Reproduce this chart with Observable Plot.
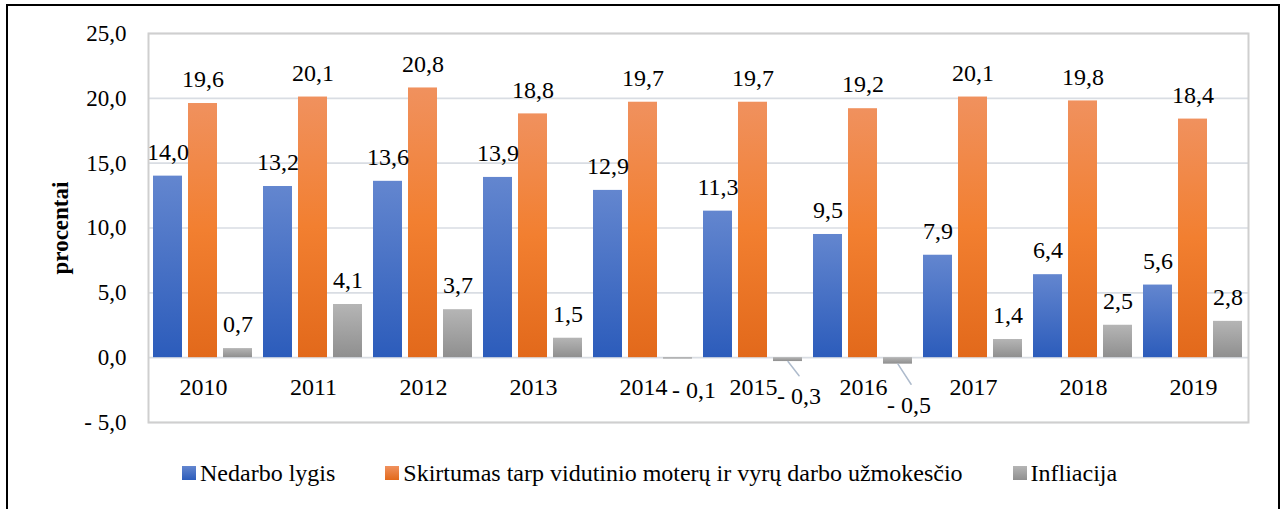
<!DOCTYPE html>
<html><head><meta charset="utf-8">
<script src="https://cdn.jsdelivr.net/npm/d3@7"></script>
<script src="https://cdn.jsdelivr.net/npm/@observablehq/plot@0.6"></script>
<style>
body{margin:0;background:#fff;font-family:"Liberation Serif","Times New Roman",serif;color:#000;}
#box{position:absolute;left:6px;top:4px;width:1270px;height:520px;border:2px solid #000;background:#fff;}
#chart{position:absolute;left:0;top:0;}
#ylab{position:absolute;left:53px;top:222px;transform:translate(-50%,-50%) rotate(-90deg);font-weight:bold;font-size:23px;white-space:nowrap;}
#legend{position:absolute;left:174px;top:453px;display:flex;gap:50px;font-size:24px;line-height:28px;white-space:nowrap;}
#legend .it{display:flex;align-items:center;gap:4px;}
#legend .sw{width:14px;height:14px;display:inline-block;}
</style></head>
<body>
<svg width="0" height="0" style="position:absolute">
  <defs>
    <linearGradient id="gBlue" x1="0" y1="0" x2="0" y2="1"><stop offset="0" stop-color="#6386cf"/><stop offset="1" stop-color="#2c5cbb"/></linearGradient>
    <linearGradient id="gOrange" x1="0" y1="0" x2="0" y2="1"><stop offset="0" stop-color="#f0915e"/><stop offset="0.5" stop-color="#f27f30"/><stop offset="1" stop-color="#e2691b"/></linearGradient>
    <linearGradient id="gGray" x1="0" y1="0" x2="0" y2="1"><stop offset="0" stop-color="#b5b5b5"/><stop offset="1" stop-color="#8f8f8f"/></linearGradient>
  </defs>
</svg>
<div id="box">
  <div id="chart"></div>
  <div id="ylab">procentai</div>
  <div id="legend"></div>
</div>
<script>
const years = ["2010","2011","2012","2013","2014","2015","2016","2017","2018","2019"];
const series = ["Nedarbo lygis", "Skirtumas tarp vidutinio moterų ir vyrų darbo užmokesčio", "Infliacija"];
const nedarbo = [14.0, 13.2, 13.6, 13.9, 12.9, 11.3, 9.5, 7.9, 6.4, 5.6];
const skirtumas = [19.6, 20.1, 20.8, 18.8, 19.7, 19.7, 19.2, 20.1, 19.8, 18.4];
const infliacija = [0.7, 4.1, 3.7, 1.5, -0.1, -0.3, -0.5, 1.4, 2.5, 2.8];
const yTicks = [-5, 0, 5, 10, 15, 20, 25];

const fills = ["url(#gBlue)", "url(#gOrange)", "url(#gGray)"];
const swatches = ["linear-gradient(#6386cf,#2c5cbb)", "linear-gradient(#f0915e,#e2691b)", "linear-gradient(#b5b5b5,#8f8f8f)"];

const fmt = v => (v < 0 ? "- " : "") + Math.abs(v).toFixed(1).replace(".", ",");

const data = [];
years.forEach((yr, i) => {
  data.push({year: yr, series: series[0], value: nedarbo[i]});
  data.push({year: yr, series: series[1], value: skirtumas[i]});
  data.push({year: yr, series: series[2], value: infliacija[i]});
});

// label styling for the negative inflation values (pixel offsets)
const negStyle = {
  "2014": {dx: 16, dy: 31, leader: null},
  "2015": {dx: 11, dy: 35, leader: {length: 18, rotate: 142}},
  "2016": {dx: 11, dy: 41, leader: {length: 24, rotate: 147}}
};
const lineShape = {draw(context, l) { context.moveTo(0, 0); context.lineTo(0, -l); }};

function build(extras) {
  const marks = [
    Plot.gridY(yTicks, {stroke: "#d9dde3", strokeOpacity: 1, strokeWidth: 1.6}),
    Plot.barY(data, {fx: "year", x: "series", y: "value", fill: "series"}),
    Plot.text(data.filter(d => d.value >= 0), {fx: "year", x: "series", y: "value", text: d => fmt(d.value), dy: -24, lineAnchor: "middle", fontSize: 24}),
    Plot.text(years, {fx: d => d, y: d => 0, text: d => d, dy: 30, lineAnchor: "middle", fontSize: 24})
  ];
  for (const yr of Object.keys(negStyle)) {
    const s = negStyle[yr];
    const sub = data.filter(d => d.year === yr && d.value < 0);
    marks.push(Plot.text(sub, {fx: "year", x: "series", y: "value", text: d => fmt(d.value), dx: s.dx, dy: s.dy, lineAnchor: "middle", fontSize: 24}));
    if (extras && s.leader) {
      marks.push(Plot.vector(sub, {fx: "year", x: "series", y: "value", length: s.leader.length, rotate: s.leader.rotate, anchor: "start", shape: lineShape, stroke: "#aebbcc", strokeWidth: 1.5}));
    }
  }
  if (extras) marks.push(Plot.frame({stroke: "#cfcfcf", strokeWidth: 2, facet: "super"}));
  return Plot.plot({
    width: 1270, height: 440,
    marginLeft: 137, marginRight: 27, marginTop: 27, marginBottom: 24,
    style: {fontFamily: "'Liberation Serif','Times New Roman',serif", fontSize: "23px", color: "#000", background: "transparent"},
    fx: {domain: years, padding: 0, axis: null, label: null},
    x: {domain: series, paddingInner: 0.1667, paddingOuter: 0.12, axis: null, label: null},
    y: {domain: [-5, 25], ticks: yTicks, tickFormat: fmt, tickSize: 0, tickPadding: 22, label: null},
    color: {domain: series, range: fills},
    marks
  });
}
let chart;
try { chart = build(true); } catch (e) { console.error(e); chart = build(false); }
document.getElementById("chart").appendChild(chart);

const leg = document.getElementById("legend");
series.forEach((s, i) => {
  const it = document.createElement("div"); it.className = "it";
  const sw = document.createElement("span"); sw.className = "sw"; sw.style.background = swatches[i];
  const t = document.createElement("span"); t.textContent = s;
  it.appendChild(sw); it.appendChild(t); leg.appendChild(it);
});
</script>
</body></html>
